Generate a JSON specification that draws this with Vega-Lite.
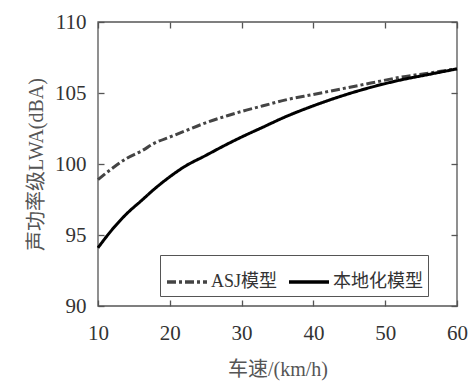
{
  "$schema": "https://vega.github.io/schema/vega-lite/v6.json",
  "width": 359,
  "height": 284,
  "autosize": {"type": "none"},
  "padding": {"left": 98, "top": 22, "right": 19, "bottom": 79},
  "background": "white",
  "config": {
    "font": "Liberation Serif",
    "view": {"stroke": null},
    "axis": {"grid": false, "labelFlush": false, "labelFont": "Liberation Serif", "labelFontSize": 21, "labelColor": "#333", "titleFont": "Liberation Serif, Noto Sans CJK SC", "titleFontSize": 20, "titleFontWeight": "normal", "titleColor": "#555"}
  },
  "data": {"values": [
    {"v": 10, "L": 98.9, "m": "ASJ模型"},
    {"v": 12, "L": 99.7, "m": "ASJ模型"},
    {"v": 14, "L": 100.4, "m": "ASJ模型"},
    {"v": 16, "L": 100.9, "m": "ASJ模型"},
    {"v": 18, "L": 101.5, "m": "ASJ模型"},
    {"v": 20, "L": 101.9, "m": "ASJ模型"},
    {"v": 22, "L": 102.3, "m": "ASJ模型"},
    {"v": 25, "L": 102.9, "m": "ASJ模型"},
    {"v": 28, "L": 103.4, "m": "ASJ模型"},
    {"v": 30, "L": 103.7, "m": "ASJ模型"},
    {"v": 33, "L": 104.1, "m": "ASJ模型"},
    {"v": 36, "L": 104.5, "m": "ASJ模型"},
    {"v": 40, "L": 104.9, "m": "ASJ模型"},
    {"v": 44, "L": 105.3, "m": "ASJ模型"},
    {"v": 48, "L": 105.7, "m": "ASJ模型"},
    {"v": 52, "L": 106.1, "m": "ASJ模型"},
    {"v": 56, "L": 106.4, "m": "ASJ模型"},
    {"v": 60, "L": 106.7, "m": "ASJ模型"},
    {"v": 10, "L": 94.1, "m": "本地化模型"},
    {"v": 12, "L": 95.4, "m": "本地化模型"},
    {"v": 14, "L": 96.5, "m": "本地化模型"},
    {"v": 16, "L": 97.4, "m": "本地化模型"},
    {"v": 18, "L": 98.3, "m": "本地化模型"},
    {"v": 20, "L": 99.1, "m": "本地化模型"},
    {"v": 22, "L": 99.8, "m": "本地化模型"},
    {"v": 25, "L": 100.6, "m": "本地化模型"},
    {"v": 28, "L": 101.4, "m": "本地化模型"},
    {"v": 30, "L": 101.9, "m": "本地化模型"},
    {"v": 33, "L": 102.6, "m": "本地化模型"},
    {"v": 36, "L": 103.3, "m": "本地化模型"},
    {"v": 40, "L": 104.1, "m": "本地化模型"},
    {"v": 44, "L": 104.8, "m": "本地化模型"},
    {"v": 48, "L": 105.4, "m": "本地化模型"},
    {"v": 52, "L": 105.9, "m": "本地化模型"},
    {"v": 56, "L": 106.3, "m": "本地化模型"},
    {"v": 60, "L": 106.7, "m": "本地化模型"}
  ]},
  "layer": [
    {
      "data": {"values": [{"x0": 10, "x1": 60, "y0": 90, "y1": 110}]},
      "mark": {"type": "rect", "fill": null, "fillOpacity": 0, "stroke": "#555", "strokeWidth": 1.3},
      "encoding": {
        "x": {"field": "x0", "type": "quantitative", "scale": {"domain": [10, 60], "nice": false, "zero": false}, "axis": null},
        "x2": {"field": "x1"},
        "y": {"field": "y0", "type": "quantitative", "scale": {"domain": [90, 110], "nice": false, "zero": false}, "axis": null},
        "y2": {"field": "y1"}
      }
    },
    {
      "mark": {"type": "line", "opacity": 0},
      "encoding": {
        "x": {"field": "v", "type": "quantitative", "scale": {"domain": [10, 60], "nice": false, "zero": false}, "axis": {"orient": "top", "values": [10, 20, 30, 40, 50, 60], "offset": -6, "domain": false, "ticks": true, "tickSize": 6, "tickColor": "#555", "tickWidth": 1.3, "labels": false, "title": null}},
        "y": {"field": "L", "type": "quantitative", "scale": {"domain": [90, 110], "nice": false, "zero": false}, "axis": {"orient": "right", "values": [90, 95, 100, 105, 110], "offset": -6, "domain": false, "ticks": true, "tickSize": 6, "tickColor": "#555", "tickWidth": 1.3, "labels": false, "title": null}}
      }
    },
    {
      "mark": {"type": "line", "strokeWidth": 3, "interpolate": "monotone"},
      "encoding": {
        "x": {"field": "v", "type": "quantitative", "scale": {"domain": [10, 60], "nice": false, "zero": false}, "axis": {"values": [10, 20, 30, 40, 50, 60], "offset": -6, "domain": false, "ticks": true, "tickSize": 6, "tickColor": "#555", "tickWidth": 1.3, "title": "车速/(km/h)", "labelPadding": 16, "titlePadding": 16}},
        "y": {"field": "L", "type": "quantitative", "scale": {"domain": [90, 110], "nice": false, "zero": false}, "axis": {"values": [90, 95, 100, 105, 110], "offset": -6, "domain": false, "ticks": true, "tickSize": 6, "tickColor": "#555", "tickWidth": 1.3, "title": "声功率级LWA(dBA)", "labelPadding": 12, "titlePadding": 8}},
        "color": {"field": "m", "type": "nominal", "scale": {"domain": ["ASJ模型", "本地化模型"], "range": ["#444", "#000"]},
          "legend": {"title": null, "orient": "none", "legendX": 62, "legendY": 233, "direction": "horizontal", "strokeColor": "#555", "padding": 5, "fillColor": "white", "symbolType": "stroke", "symbolSize": 1600, "symbolStrokeWidth": 3.5, "labelFont": "Liberation Serif, Noto Sans CJK SC", "labelFontSize": 18, "labelColor": "#333", "labelOffset": 2, "columnPadding": 4}},
        "strokeDash": {"field": "m", "type": "nominal", "scale": {"domain": ["ASJ模型", "本地化模型"], "range": [[9, 3, 3, 3], [1, 0]]},
          "legend": {"title": null, "orient": "none", "legendX": 62, "legendY": 233, "direction": "horizontal", "strokeColor": "#555", "padding": 5, "fillColor": "white", "symbolType": "stroke", "symbolSize": 1600, "symbolStrokeWidth": 3.5, "labelFont": "Liberation Serif, Noto Sans CJK SC", "labelFontSize": 18, "labelColor": "#333", "labelOffset": 2, "columnPadding": 4}}
      }
    }
  ],
  "resolve": {"scale": {"x": "independent", "y": "independent"}, "axis": {"x": "independent", "y": "independent"}}
}
